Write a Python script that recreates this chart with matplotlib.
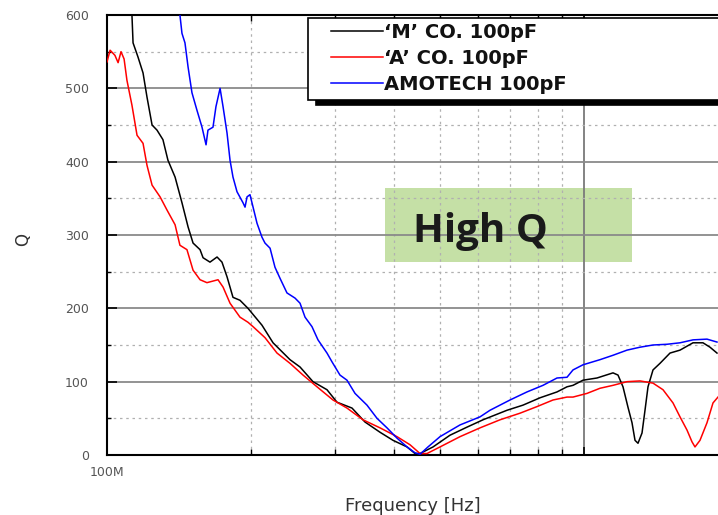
import matplotlib
matplotlib.use("Agg")
import matplotlib.pyplot as plt
from matplotlib.lines import Line2D
from matplotlib.legend_handler import HandlerLine2D
from matplotlib.patches import Rectangle
from matplotlib.ticker import FixedLocator, NullFormatter

# ---------------- data (frequency in MHz, Q) ----------------
m_freq = [111.0, 112.8, 113.4, 116.1, 119.0, 121.3, 124.3, 127.3, 131.0, 134.2,
          138.9, 143.6, 147.9, 151.5, 156.7, 159.0, 164.4, 170.1, 174.2, 178.5,
          183.7, 190.0, 197.5, 211.3, 222.9, 241.9, 253.9, 270.3, 289.2, 303.5,
          326.3, 347.4, 373.6, 397.8, 425.6, 442.3, 453.1, 482.5, 523.7, 568.5,
          614.1, 689.6, 744.9, 808.6, 877.8, 921.2, 948.3, 995.1, 1064.7, 1150.3,
          1178.4, 1207.1, 1236.7, 1260.8, 1279.2, 1297.8, 1323.2, 1342.4, 1362.0, 1395.3,
          1443.2, 1514.6, 1589.5, 1692.3, 1776.0, 1837.1, 1900.3]
m_q = [650, 600, 562, 543, 521, 488, 450, 443, 430, 402,
       379, 344, 311, 289, 280, 269, 263, 270, 263, 243,
       215, 211, 200, 177, 153, 130, 120, 100, 89, 72,
       64, 45, 31, 20, 11, 2, 2, 11, 27, 38,
       48, 61, 68, 78, 86, 93, 95, 102, 105, 112,
       109, 93, 65, 44, 20, 16, 30, 61, 93, 116,
       125, 139, 143, 153, 153, 147, 139]

a_freq = [100.0, 101.5, 103.9, 105.5, 107.0, 108.6, 110.1, 112.8, 115.6, 119.0,
          121.3, 124.3, 129.2, 133.6, 138.9, 142.2, 147.1, 151.5, 156.7, 162.0,
          170.9, 175.1, 181.1, 190.0, 197.5, 202.4, 214.4, 227.2, 241.9, 257.6,
          275.6, 297.7, 318.5, 344.1, 373.6, 405.5, 431.7, 453.1, 468.7, 499.0,
          549.6, 605.3, 666.7, 734.2, 797.0, 861.0, 921.2, 948.3, 1014.6, 1080.3,
          1150.3, 1230.7, 1310.4, 1395.3, 1464.3, 1536.7, 1589.5, 1644.1, 1684.2, 1708.8,
          1750.5, 1810.7, 1864.0, 1909.5]
a_q = [536, 552, 545, 535, 550, 540, 511, 477, 436, 425,
       395, 368, 352, 334, 314, 286, 280, 252, 239, 235,
       239, 229, 207, 188, 181, 175, 160, 139, 125, 109,
       93, 75, 64, 48, 37, 25, 14, 2, 2, 11,
       25, 37, 48, 57, 66, 75, 79, 79, 84, 91,
       95, 100, 101, 98, 89, 71, 52, 34, 18, 11,
       20, 44, 71, 79]

t_freq = [140.5, 142.2, 143.6, 145.7, 147.9, 150.7, 154.4, 158.2, 161.3, 162.8,
          166.8, 169.2, 172.6, 175.1, 178.5, 181.1, 183.7, 187.3, 192.8, 194.7,
          196.6, 199.4, 202.4, 206.3, 211.3, 214.4, 219.7, 225.0, 230.5, 238.4,
          247.8, 253.9, 260.1, 269.0, 276.9, 289.2, 296.3, 307.9, 318.5, 331.1,
          350.8, 368.2, 386.4, 405.5, 425.6, 442.3, 453.1, 470.9, 499.0, 549.6,
          605.3, 635.2, 699.6, 759.4, 820.4, 877.8, 921.2, 948.3, 995.1, 1080.3,
          1150.3, 1230.7, 1310.4, 1395.3, 1492.8, 1589.5, 1692.3, 1810.7, 1900.3]
t_q = [640, 600, 575, 562, 529, 494, 470, 447, 423, 443,
       447, 475, 500, 475, 439, 402, 379, 359, 344, 338,
       352, 355, 338, 316, 297, 289, 282, 256, 241, 221,
       214, 207, 188, 175, 157, 139, 127, 109, 102, 84,
       68, 50, 37, 23, 11, 3, 1, 11, 25, 41,
       52, 61, 75, 86, 95, 105, 106, 116, 123, 130,
       136, 143, 147, 150, 151, 153, 157, 158, 154]

series_labels = ["\u2018M\u2019 CO. 100pF", "\u2018A\u2019 CO. 100pF", "AMOTECH 100pF"]
series_colors = ["#000000", "#ff0000", "#0000ff"]
y_ticks = [0, 100, 200, 300, 400, 500, 600]
x_tick_label = "100M"
x_label = "Frequency [Hz]"
y_label = "Q"
note_text = "High Q"

# ---------------- figure ----------------
W, H = 718, 515
fig = plt.figure(figsize=(W / 100, H / 100), dpi=100)
ax = fig.add_axes([107 / W, 1 - 455 / H, 611 / W, 440 / H])

for fx, qy, lab, col in zip([m_freq, a_freq, t_freq], [m_q, a_q, t_q],
                            series_labels, series_colors):
    ax.plot(fx, qy, color=col, lw=1.1, label=lab, zorder=3)

ax.set_xscale("log")
ax.set_xlim(100, 1909.5)
ax.set_ylim(0, 600)

# ticks
ax.xaxis.set_major_locator(FixedLocator([100, 1000]))
ax.xaxis.set_minor_locator(FixedLocator([200, 300, 400, 500, 600, 700, 800, 900]))
ax.set_xticklabels([x_tick_label, ""])
ax.xaxis.set_minor_formatter(NullFormatter())
ax.set_yticks(y_ticks)
ax.yaxis.set_minor_locator(FixedLocator([50, 150, 250, 350, 450, 550]))

ax.tick_params(axis="both", which="both", direction="in", colors="black",
               labelcolor="#555555", labelsize=9)
ax.tick_params(axis="x", which="major", length=6, width=1.2, top=True, pad=8)
ax.tick_params(axis="x", which="minor", length=4, width=1.0, top=True)
ax.tick_params(axis="y", which="major", length=7, width=1.2, pad=13)
ax.tick_params(axis="y", which="minor", length=3, width=1.0)

# grid
ax.grid(True, which="major", axis="y", color="#8a8a8a", lw=1.3, ls="-")
ax.grid(True, which="minor", axis="y", color="#b0b0b0", lw=0.9, ls=(0, (2, 3)))
ax.grid(True, which="minor", axis="x", color="#b0b0b0", lw=0.9, ls=(0, (2, 3)))
ax.grid(True, which="major", axis="x", color="#7a7a7a", lw=1.3, ls="-")

for s in ["left", "bottom", "top"]:
    ax.spines[s].set_linewidth(1.5)
    ax.spines[s].set_color("black")
ax.spines["right"].set_visible(False)

# labels
ax.set_xlabel(x_label, fontsize=13, color="#333333")
ax.xaxis.set_label_coords(0.5, -0.095)
ax.set_ylabel(y_label, fontsize=12, color="#333333")
ax.yaxis.set_label_coords(-0.122, 0.489)

# High Q box
ax.add_patch(Rectangle((0.455, 0.4386), 0.404, 0.1682, transform=ax.transAxes,
                       facecolor="#c5e0a6", edgecolor="none", zorder=1))
ax.text(0.6105, 0.484, note_text, transform=ax.transAxes, ha="center",
        va="baseline", fontsize=29, fontweight="bold", family="Open Sans",
        color="#1a1a1a", zorder=4)

# legend
leg = ax.legend(loc="upper left", bbox_to_anchor=(308 / W, 0.5, 440 / W, 1 - 18 / H - 0.5),
                bbox_transform=fig.transFigure, mode="expand", borderaxespad=0,
                prop={"family": "DejaVu Sans", "weight": "bold", "size": 14},
                handlelength=3.6, handletextpad=0.05, borderpad=0.27,
                labelspacing=0.36, fancybox=False, framealpha=1,
                edgecolor="black",
                shadow={"ox": 5.8, "oy": -3.6, "facecolor": "black",
                        "edgecolor": "black", "alpha": 1},
                handler_map={Line2D: HandlerLine2D(xpad=0.9)})
leg.get_frame().set_linewidth(1.2)
leg.set_zorder(10)
for txt in leg.get_texts():
    txt.set_color("#111111")

fig.savefig("out.png", dpi=100)
